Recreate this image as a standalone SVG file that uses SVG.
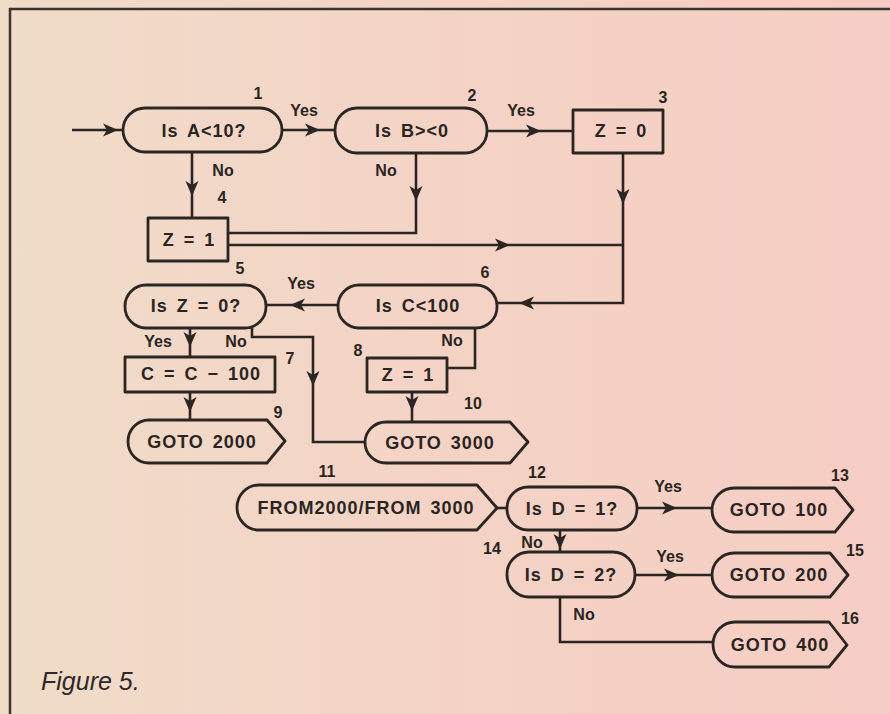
<svg xmlns="http://www.w3.org/2000/svg" xmlns:xlink="http://www.w3.org/1999/xlink" width="890" height="714" viewBox="0 0 890 714">
<defs>
<linearGradient id="bg" x1="0" y1="0" x2="1" y2="0">
<stop offset="0" stop-color="#efdcc9"/>
<stop offset="0.5" stop-color="#f4d3c6"/>
<stop offset="1" stop-color="#f6cdc4"/>
</linearGradient>
<path id="ah" d="M8 0 L-7 -6.5 L-3 0 L-7 6.5 Z" fill="#2b2622"/>
</defs>
<style>
.s{fill:none;stroke:#2b2622;stroke-width:2.8;stroke-linejoin:round}
.c{fill:none;stroke:#2b2622;stroke-width:2.6}
.t{font-family:"Liberation Sans",Arial,sans-serif;font-weight:bold;font-size:18px;letter-spacing:1px;word-spacing:3px;fill:#2a2520;text-anchor:middle;dominant-baseline:central}
.n{font-family:"Liberation Sans",Arial,sans-serif;font-weight:bold;font-size:16px;fill:#2a2520;text-anchor:middle;dominant-baseline:central}
.cap{font-family:"Liberation Sans",Arial,sans-serif;font-style:italic;font-size:25px;fill:#2f2a27}
</style>
<rect width="890" height="714" fill="url(#bg)"/>
<path d="M10 714 V9 H890" fill="none" stroke="#3a3430" stroke-width="2.5"/>

<g id="connectors">
<path class="c" d="M72 130 H123"/>
<use xlink:href="#ah" transform="translate(110,130)"/>
<path class="c" d="M282 130 H335"/>
<use xlink:href="#ah" transform="translate(312,130)"/>
<path class="c" d="M487 131 H573"/>
<use xlink:href="#ah" transform="translate(533,131)"/>
<path class="c" d="M623 153 V303 H497"/>
<use xlink:href="#ah" transform="translate(623,196) rotate(90)"/>
<use xlink:href="#ah" transform="translate(527,303) rotate(180)"/>
<path class="c" d="M192 152 V218"/>
<use xlink:href="#ah" transform="translate(192,188) rotate(90)"/>
<path class="c" d="M416 153 V233 H228"/>
<use xlink:href="#ah" transform="translate(416,193) rotate(90)"/>
<path class="c" d="M228 245 H623"/>
<use xlink:href="#ah" transform="translate(502,245)"/>
<path class="c" d="M338 305 H265"/>
<use xlink:href="#ah" transform="translate(298,305) rotate(180)"/>
<path class="c" d="M190 328 V357"/>
<use xlink:href="#ah" transform="translate(190,339) rotate(90)"/>
<path class="c" d="M252 326 V337 H313 V442 H366"/>
<use xlink:href="#ah" transform="translate(313,378) rotate(90)"/>
<path class="c" d="M475 327 V368 H447"/>
<path class="c" d="M190 392 V420"/>
<use xlink:href="#ah" transform="translate(190,404) rotate(90)"/>
<path class="c" d="M412 392 V422"/>
<use xlink:href="#ah" transform="translate(412,403) rotate(90)"/>
<path class="c" d="M497 508 H507"/>
<path class="c" d="M637 508 H712"/>
<use xlink:href="#ah" transform="translate(669,508)"/>
<path class="c" d="M560 530 V552"/>
<use xlink:href="#ah" transform="translate(560,541) rotate(90)"/>
<path class="c" d="M635 575 H712"/>
<use xlink:href="#ah" transform="translate(671,575)"/>
<path class="c" d="M560 597 V642 H713"/>
<text class="n" x="304" y="110">Yes</text>
<text class="n" x="521" y="110">Yes</text>
<text class="n" x="223" y="170">No</text>
<text class="n" x="386" y="170">No</text>
<text class="n" x="301" y="283">Yes</text>
<text class="n" x="158" y="341">Yes</text>
<text class="n" x="236" y="341">No</text>
<text class="n" x="452" y="340">No</text>
<text class="n" x="668" y="486">Yes</text>
<text class="n" x="532" y="542">No</text>
<text class="n" x="670" y="556">Yes</text>
<text class="n" x="584" y="614">No</text>
</g>

<g id="n1">
<rect class="s" x="123" y="108" width="159" height="44" rx="22"/>
<text class="t" x="204" y="131">Is A&lt;10?</text>
<text class="n" x="258" y="93">1</text>
</g>
<g id="n2">
<rect class="s" x="335" y="108" width="152" height="45" rx="22"/>
<text class="t" x="412" y="131">Is B&gt;&lt;0</text>
<text class="n" x="472" y="95">2</text>
</g>
<g id="n3">
<rect class="s" x="573" y="110" width="90" height="43"/>
<text class="t" x="621" y="131">Z = 0</text>
<text class="n" x="663" y="97">3</text>
</g>
<g id="n4">
<rect class="s" x="148" y="218" width="80" height="43"/>
<text class="t" x="189" y="240">Z = 1</text>
<text class="n" x="222" y="197">4</text>
</g>
<g id="n5">
<rect class="s" x="125" y="285" width="141" height="43" rx="21"/>
<text class="t" x="196" y="306">Is Z = 0?</text>
<text class="n" x="240" y="268">5</text>
</g>
<g id="n6">
<rect class="s" x="338" y="285" width="159" height="43" rx="21"/>
<text class="t" x="418" y="306">Is C&lt;100</text>
<text class="n" x="485" y="272">6</text>
</g>
<g id="n7">
<rect class="s" x="125" y="357" width="150" height="35"/>
<text class="t" x="201" y="374">C = C − 100</text>
<text class="n" x="290" y="358">7</text>
</g>
<g id="n8">
<rect class="s" x="367" y="358" width="80" height="34"/>
<text class="t" x="408" y="375">Z = 1</text>
<text class="n" x="358" y="350">8</text>
</g>
<g id="n9">
<path class="s" d="M149 420 H267 L285 441 L267 463 H149 A21 21.5 0 0 1 149 420 Z"/>
<text class="t" x="202" y="442">GOTO 2000</text>
<text class="n" x="278" y="412">9</text>
</g>
<g id="n10">
<path class="s" d="M386 422 H510 L528 442 L510 463 H386 A21 20.5 0 0 1 386 422 Z"/>
<text class="t" x="440" y="443">GOTO 3000</text>
<text class="n" x="473" y="403">10</text>
</g>
<g id="n11">
<path class="s" d="M259 485 H477 L497 508 L477 530 H259 A22 22.5 0 0 1 259 485 Z"/>
<text class="t" x="366" y="508">FROM2000/FROM 3000</text>
<text class="n" x="327" y="471">11</text>
</g>
<g id="n12">
<rect class="s" x="507" y="487" width="130" height="43" rx="21"/>
<text class="t" x="572" y="509">Is D = 1?</text>
<text class="n" x="537" y="472">12</text>
</g>
<g id="n13">
<path class="s" d="M734 488 H835 L853 510 L835 532 H734 A22 22 0 0 1 734 488 Z"/>
<text class="t" x="779" y="510">GOTO 100</text>
<text class="n" x="840" y="475">13</text>
</g>
<g id="n14">
<rect class="s" x="507" y="552" width="128" height="45" rx="22"/>
<text class="t" x="571" y="575">Is D = 2?</text>
<text class="n" x="492" y="548">14</text>
</g>
<g id="n15">
<path class="s" d="M734 553 H830 L848 575 L830 597 H734 A22 22 0 0 1 734 553 Z"/>
<text class="t" x="779" y="575">GOTO 200</text>
<text class="n" x="855" y="550">15</text>
</g>
<g id="n16">
<path class="s" d="M735 622 H829 L847 645 L829 667 H735 A22 22.5 0 0 1 735 622 Z"/>
<text class="t" x="780" y="645">GOTO 400</text>
<text class="n" x="850" y="618">16</text>
</g>

<text class="cap" x="41" y="690">Figure 5.</text>
</svg>
